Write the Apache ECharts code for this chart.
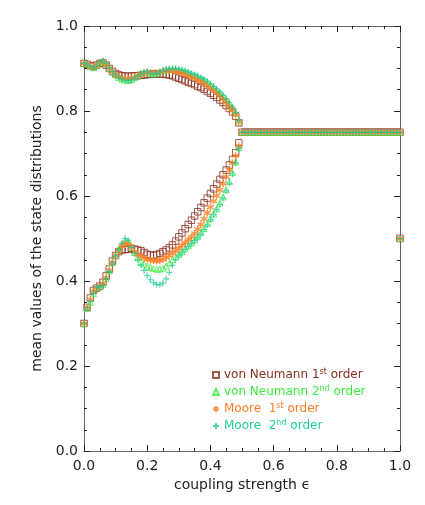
<!DOCTYPE html>
<html>
<head>
<meta charset="utf-8">
<script src="https://cdn.jsdelivr.net/npm/echarts@6/dist/echarts.min.js"></script>
<style>
  html, body { margin: 0; padding: 0; background: #fff; }
  #chart { width: 425px; height: 505px; }
</style>
</head>
<body>
<div id="chart"></div>
<script>
// coupling strength, bifurcated part
const eps = [0.00, 0.01, 0.02, 0.03, 0.04, 0.05, 0.06, 0.07, 0.08, 0.09,
  0.10, 0.11, 0.12, 0.13, 0.14, 0.15, 0.16, 0.17, 0.18, 0.19,
  0.20, 0.21, 0.22, 0.23, 0.24, 0.25, 0.26, 0.27, 0.28, 0.29,
  0.30, 0.31, 0.32, 0.33, 0.34, 0.35, 0.36, 0.37, 0.38, 0.39,
  0.40, 0.41, 0.42, 0.43, 0.44, 0.45, 0.46, 0.47, 0.48, 0.49]

// von Neumann 1st order
const vn1Upper = [0.912, 0.910, 0.906, 0.905, 0.908, 0.912, 0.913, 0.908, 0.900, 0.893,
  0.888, 0.885, 0.883, 0.882, 0.882, 0.882, 0.883, 0.883, 0.884, 0.885,
  0.886, 0.886, 0.887, 0.887, 0.887, 0.887, 0.886, 0.885, 0.883, 0.880,
  0.877, 0.874, 0.871, 0.868, 0.865, 0.862, 0.858, 0.855, 0.851, 0.846,
  0.842, 0.837, 0.832, 0.826, 0.820, 0.813, 0.806, 0.798, 0.788, 0.772]
const vn1Lower = [0.300, 0.338, 0.360, 0.378, 0.383, 0.388, 0.397, 0.412, 0.428, 0.447,
  0.460, 0.469, 0.473, 0.474, 0.475, 0.477, 0.475, 0.473, 0.471, 0.467,
  0.463, 0.461, 0.460, 0.462, 0.465, 0.469, 0.473, 0.478, 0.485, 0.494,
  0.504, 0.513, 0.523, 0.533, 0.543, 0.553, 0.563, 0.573, 0.584, 0.595,
  0.606, 0.617, 0.628, 0.639, 0.650, 0.661, 0.673, 0.686, 0.702, 0.725]

// von Neumann 2nd order
const vn2Upper = [0.912, 0.910, 0.905, 0.902, 0.907, 0.914, 0.917, 0.911, 0.901, 0.892,
  0.885, 0.879, 0.875, 0.873, 0.872, 0.874, 0.878, 0.883, 0.888, 0.891,
  0.892, 0.889, 0.887, 0.889, 0.892, 0.895, 0.897, 0.898, 0.898, 0.898,
  0.897, 0.895, 0.893, 0.890, 0.887, 0.884, 0.881, 0.877, 0.873, 0.868,
  0.862, 0.856, 0.850, 0.843, 0.835, 0.827, 0.818, 0.808, 0.795, 0.776]
const vn2Lower = [0.300, 0.335, 0.350, 0.370, 0.384, 0.386, 0.392, 0.406, 0.424, 0.443,
  0.460, 0.474, 0.486, 0.495, 0.492, 0.480, 0.467, 0.455, 0.446, 0.440,
  0.435, 0.432, 0.430, 0.428, 0.428, 0.430, 0.435, 0.442, 0.450, 0.457,
  0.463, 0.469, 0.476, 0.483, 0.490, 0.497, 0.505, 0.514, 0.524, 0.535,
  0.547, 0.558, 0.570, 0.583, 0.598, 0.615, 0.634, 0.655, 0.680, 0.714]

// Moore 1st order
const moore1Upper = [0.912, 0.910, 0.905, 0.903, 0.908, 0.914, 0.916, 0.910, 0.901, 0.893,
  0.887, 0.882, 0.878, 0.876, 0.876, 0.877, 0.879, 0.883, 0.887, 0.890,
  0.891, 0.890, 0.889, 0.890, 0.892, 0.894, 0.895, 0.895, 0.895, 0.894,
  0.892, 0.890, 0.887, 0.884, 0.881, 0.878, 0.874, 0.870, 0.866, 0.861,
  0.856, 0.850, 0.843, 0.836, 0.828, 0.820, 0.811, 0.802, 0.791, 0.775]
const moore1Lower = [0.300, 0.337, 0.356, 0.376, 0.384, 0.388, 0.394, 0.408, 0.425, 0.444,
  0.460, 0.472, 0.482, 0.489, 0.487, 0.479, 0.469, 0.462, 0.458, 0.454,
  0.451, 0.449, 0.448, 0.447, 0.448, 0.451, 0.455, 0.460, 0.465, 0.471,
  0.477, 0.484, 0.490, 0.497, 0.504, 0.512, 0.522, 0.533, 0.546, 0.560,
  0.574, 0.588, 0.601, 0.614, 0.629, 0.645, 0.661, 0.678, 0.695, 0.718]

// Moore 2nd order
const moore2Upper = [0.912, 0.910, 0.905, 0.902, 0.908, 0.915, 0.918, 0.912, 0.902, 0.893,
  0.886, 0.880, 0.875, 0.872, 0.871, 0.873, 0.877, 0.882, 0.888, 0.892,
  0.893, 0.889, 0.886, 0.888, 0.892, 0.896, 0.898, 0.899, 0.900, 0.900,
  0.899, 0.897, 0.895, 0.892, 0.889, 0.886, 0.883, 0.879, 0.875, 0.870,
  0.864, 0.858, 0.852, 0.845, 0.837, 0.829, 0.820, 0.810, 0.797, 0.778]
const moore2Lower = [0.300, 0.336, 0.352, 0.372, 0.385, 0.387, 0.390, 0.405, 0.422, 0.442,
  0.459, 0.474, 0.489, 0.500, 0.496, 0.479, 0.465, 0.450, 0.437, 0.425,
  0.413, 0.403, 0.396, 0.392, 0.391, 0.395, 0.405, 0.420, 0.437, 0.450,
  0.459, 0.466, 0.474, 0.481, 0.488, 0.495, 0.502, 0.511, 0.521, 0.532,
  0.544, 0.556, 0.568, 0.580, 0.595, 0.612, 0.630, 0.652, 0.678, 0.712]

// synchronised part, same for all four neighbourhoods
const epsTail = [0.50, 0.51, 0.52, 0.53, 0.54, 0.55, 0.56, 0.57, 0.58, 0.59,
  0.60, 0.61, 0.62, 0.63, 0.64, 0.65, 0.66, 0.67, 0.68, 0.69,
  0.70, 0.71, 0.72, 0.73, 0.74, 0.75, 0.76, 0.77, 0.78, 0.79,
  0.80, 0.81, 0.82, 0.83, 0.84, 0.85, 0.86, 0.87, 0.88, 0.89,
  0.90, 0.91, 0.92, 0.93, 0.94, 0.95, 0.96, 0.97, 0.98, 0.99, 1.00]
const meanTail = [0.75, 0.75, 0.75, 0.75, 0.75, 0.75, 0.75, 0.75, 0.75, 0.75,
  0.75, 0.75, 0.75, 0.75, 0.75, 0.75, 0.75, 0.75, 0.75, 0.75,
  0.75, 0.75, 0.75, 0.75, 0.75, 0.75, 0.75, 0.75, 0.75, 0.75,
  0.75, 0.75, 0.75, 0.75, 0.75, 0.75, 0.75, 0.75, 0.75, 0.75,
  0.75, 0.75, 0.75, 0.75, 0.75, 0.75, 0.75, 0.75, 0.75, 0.75, 0.75]
const epsEnd = [1.00]
const meanEnd = [0.50]

const seriesNames = ['von Neumann 1st order', 'von Neumann 2nd order', 'Moore 1st order', 'Moore 2nd order']
const legendLabels = ['von Neumann 1{sup|st} order', 'von Neumann 2{sup|nd} order', 'Moore  1{sup|st} order', 'Moore  2{sup|nd} order']
const colors = ['#8a2e1f', '#3cec3c', '#ff7d22', '#20cc9c']

const asterisk = 'path://M5,0L5,10M0.7,2.5L9.3,7.5M0.7,7.5L9.3,2.5'
const plus = 'path://M0,5L10,5M5,0L5,10'

function points (upper, lower) {
  return eps.map((e, i) => [e, upper[i]])
    .concat(eps.map((e, i) => [e, lower[i]]))
    .concat(epsTail.map((e, i) => [e, meanTail[i]]))
    .concat(epsEnd.map((e, i) => [e, meanEnd[i]]))
}

const font = 'DejaVu Sans'

function axisX (pos, showLabel) {
  return {
    type: 'value',
    position: pos,
    min: 0,
    max: 1,
    interval: 0.2,
    axisLine: { show: true, onZero: false, lineStyle: { color: '#666', width: 1 } },
    axisTick: { show: true, inside: true, length: 6, lineStyle: { color: '#222' } },
    minorTick: { show: true, splitNumber: 4, length: 3, lineStyle: { color: '#222' } },
    splitLine: { show: false },
    axisLabel: {
      show: showLabel,
      margin: 8,
      fontFamily: font,
      fontSize: 14,
      color: '#222',
      formatter: v => v.toFixed(1)
    }
  }
}

function axisY (pos, showLabel) {
  let a = axisX(pos, showLabel)
  a.axisLabel.margin = 6
  return a
}

const xMain = axisX('bottom', true)
xMain.name = 'coupling strength ϵ'
xMain.nameLocation = 'middle'
xMain.nameGap = 26
xMain.nameTextStyle = { fontFamily: font, fontSize: 14, color: '#222' }

const yMain = axisY('left', true)
yMain.name = 'mean values of the state distributions'
yMain.nameLocation = 'middle'
yMain.nameGap = 32
yMain.nameTextStyle = { fontFamily: font, fontSize: 14, color: '#222' }

const symbols = [
  { symbol: 'rect', size: 6.5, width: 1, data: points(vn1Upper, vn1Lower) },
  { symbol: 'triangle', size: 6, width: 1, data: points(vn2Upper, vn2Lower) },
  { symbol: asterisk, size: 7, width: 1.5, data: points(moore1Upper, moore1Lower) },
  { symbol: plus, size: 6, width: 1.2, data: points(moore2Upper, moore2Lower) }
]

const chart = echarts.init(document.getElementById('chart'))
chart.setOption({
  animation: false,
  backgroundColor: '#fff',
  grid: { left: 84, right: 25, top: 26, bottom: 54, containLabel: false },
  xAxis: [xMain, axisX('top', false)],
  yAxis: [yMain, axisY('right', false)],
  legend: {
    orient: 'vertical',
    left: 207,
    top: 363,
    itemWidth: 6,
    itemHeight: 6,
    itemGap: 3,
    selectedMode: false,
    data: seriesNames.map((n, i) => ({ name: n, textStyle: { color: colors[i] } })),
    formatter: name => legendLabels[seriesNames.indexOf(name)],
    textStyle: {
      fontFamily: font,
      fontSize: 12,
      lineHeight: 14,
      rich: {
        sup: { fontFamily: font, fontSize: 8, lineHeight: 8, verticalAlign: 'top' }
      }
    }
  },
  series: symbols.map((s, i) => ({
    name: seriesNames[i],
    type: 'scatter',
    xAxisIndex: 0,
    yAxisIndex: 0,
    symbol: s.symbol,
    symbolSize: s.size,
    itemStyle: { color: 'rgba(0,0,0,0)', borderColor: colors[i], borderWidth: s.width },
    emphasis: { disabled: true },
    data: s.data
  }))
})
</script>
</body>
</html>
